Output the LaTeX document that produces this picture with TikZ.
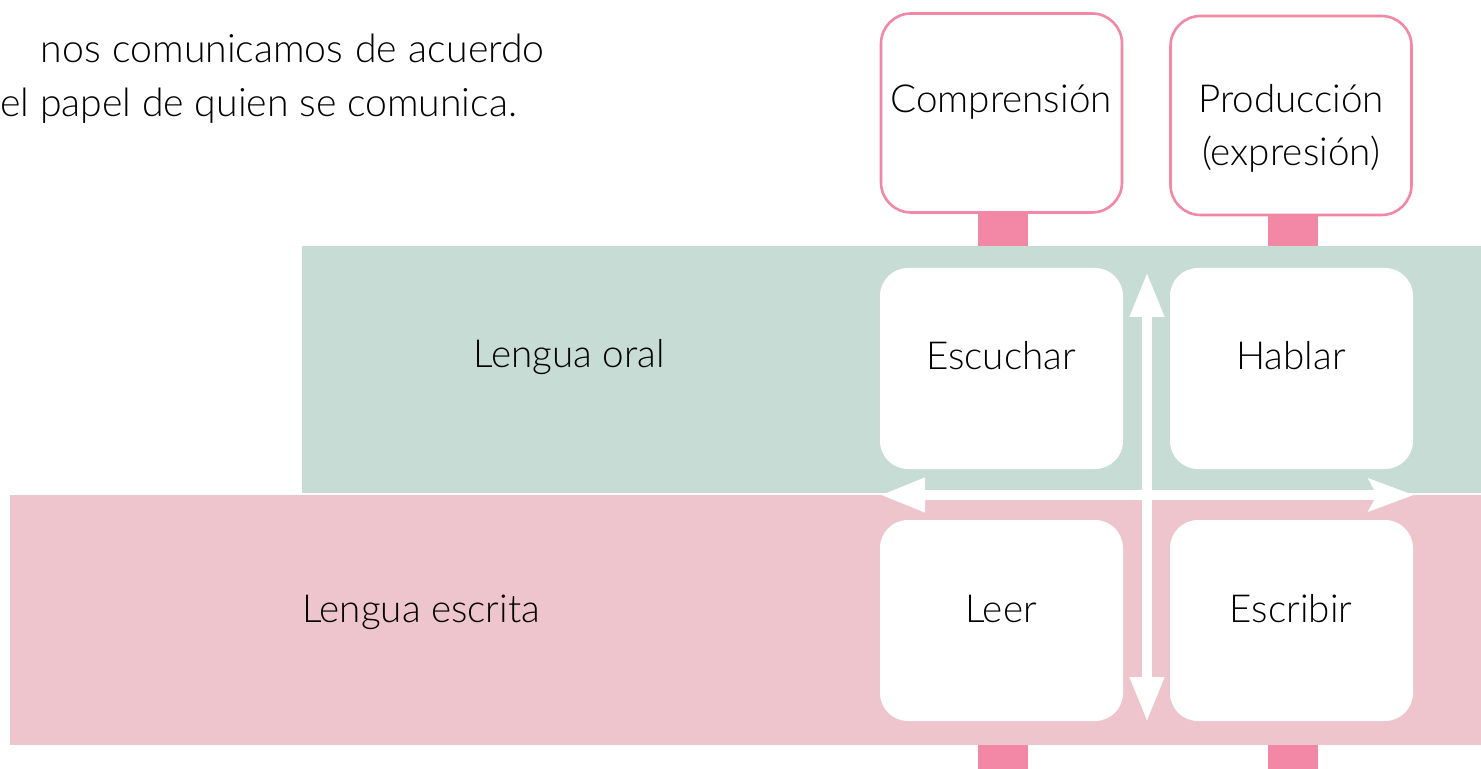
\documentclass[tikz,border=0pt]{standalone}
\usepackage{fontspec}
\setmainfont{Lato}[UprightFont={* Light}]
\usetikzlibrary{arrows.meta}
\definecolor{bandgreen}{HTML}{C6DCD5}
\definecolor{bandpink}{HTML}{EFC5CD}
\definecolor{rose}{HTML}{F288A6}
\tikzset{
  txt/.style={font=\fontsize{19.3}{23}\selectfont, inner sep=0pt, anchor=base},
  ptxt/.style={font=\fontsize{19.6}{23}\selectfont, inner sep=0pt},
  topbox/.style={draw=rose, line width=1.3pt, fill=white, rounded corners=15pt, minimum width=120.5pt, minimum height=99.5pt, inner sep=0pt},
  cell/.style={fill=white, rounded corners=14pt, minimum width=121.5pt, minimum height=100.5pt, inner sep=0pt},
  stub/.style={fill=rose},
  warrow/.style={draw=white, line width=5pt, {Triangle[length=22.5pt,width=16pt]}-{Triangle[length=22.5pt,width=16pt]}},
  warrowh/.style={draw=white, line width=5pt, {Triangle[length=22.5pt,width=16pt]}-{Stealth[length=22.5pt,width=16pt,inset=4pt]}}
}
\begin{document}
\begin{tikzpicture}[x=0.5pt,y=-0.5pt]
\useasboundingbox (0,0) rectangle (1481,769);
% bands
\fill[bandgreen] (302,246) rectangle (1481,493);
\fill[bandpink] (10,495) rectangle (1481,745);
% stubs
\fill[stub] (978,210) rectangle (1028,246);
\fill[stub] (1268,212) rectangle (1318,246);
\fill[stub] (978,745) rectangle (1028,769);
\fill[stub] (1268,745) rectangle (1318,769);
% top boxes
\node[topbox] (comp) at (1001.5,113) {};
\node[topbox] (prod) at (1291,115.5) {};
\node[txt] (compt) at (1001,113) {Comprensión};
\node[txt] (prodt1) at (1291,113) {Producción};
\node[txt] (prodt2) at (1291,166) {(expresión)};
% cells
\node[cell] (esc) at (1001.5,368.5) {};
\node[cell] (hab) at (1291.5,368.5) {};
\node[cell] (lee) at (1001.5,620.5) {};
\node[cell] (esb) at (1291.5,620.5) {};
\node[txt] at (1001,370) {Escuchar};
\node[txt] at (1291,370) {Hablar};
\node[txt] at (1001,622) {Leer};
\node[txt] at (1291,622) {Escribir};
% band labels
\node[txt] (oral) at (569,368) {Lengua oral};
\node[txt] (escr) at (421,622) {Lengua escrita};
% arrows
\coordinate (vt) at (1147,272);
\coordinate (vb) at (1147,722);
\coordinate (hl) at (880,495);
\coordinate (hr) at (1414,495);
\draw[warrow] (vt) -- (vb);
\draw[warrowh] (hl) -- (hr);
% paragraph
\node[ptxt, anchor=base east] (p1) at (545,63) {\makebox[252pt][s]{nos comunicamos de acuerdo}};
\node[ptxt, anchor=base west] (p2) at (0,117) {el papel de quien se comunica.};
\end{tikzpicture}
\end{document}
